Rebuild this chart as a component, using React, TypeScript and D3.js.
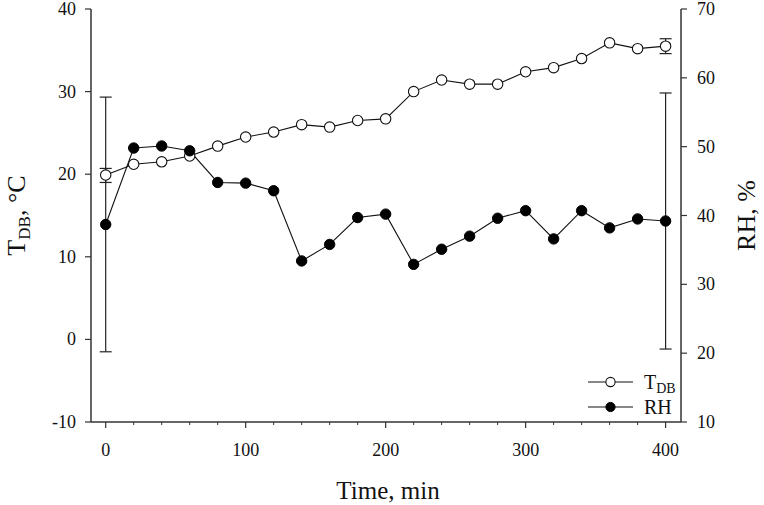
import React from "react";
import * as d3 from "d3";

const times = [0, 20, 40, 60, 80, 100, 120, 140, 160, 180, 200, 220, 240, 260, 280, 300, 320, 340, 360, 380, 400];
const tdb = [19.9, 21.2, 21.5, 22.2, 23.4, 24.5, 25.1, 26.0, 25.7, 26.5, 26.7, 30.0, 31.4, 30.9, 30.9, 32.4, 32.9, 34.0, 35.9, 35.2, 35.5];
const rh = [38.7, 49.8, 50.1, 49.4, 44.8, 44.7, 43.6, 33.4, 35.8, 39.7, 40.2, 32.9, 35.1, 37.0, 39.6, 40.7, 36.6, 40.7, 38.2, 39.5, 39.2];
// error bars: [time, low, high]
const tdbErr = [
  [0, 19.0, 20.7],
  [400, 34.6, 36.4],
];
const rhErr = [
  [0, 20.2, 57.2],
  [400, 20.6, 57.8],
];
const xTicks = [0, 100, 200, 300, 400];
const xMinor = [20, 40, 60, 80, 120, 140, 160, 180, 220, 240, 260, 280, 320, 340, 360, 380];
const leftTicks = [-10, 0, 10, 20, 30, 40];
const rightTicks = [10, 20, 30, 40, 50, 60, 70];

const W = 764;
const H = 505;
const X0 = 91, X1 = 681, Y0 = 422, Y1 = 9;

export default function App() {
  const x = d3.scaleLinear().domain([-10.5, 411]).range([X0, X1]);
  const yL = d3.scaleLinear().domain([-10, 40]).range([Y0, Y1]);
  const yR = d3.scaleLinear().domain([10, 70]).range([Y0, Y1]);
  const lineT = d3.line<number>().x((_, i) => x(times[i])).y((d) => yL(d));
  const lineR = d3.line<number>().x((_, i) => x(times[i])).y((d) => yR(d));
  const font = "'Liberation Serif', 'Times New Roman', serif";
  const axisCol = "#333";
  const cap = 6;
  return (
    <svg width={W} height={H} style={{ position: "absolute", left: 0, top: 0, background: "#fff" }} fontFamily={font}>
      {/* axes */}
      <line x1={X0} x2={X1} y1={Y0} y2={Y0} stroke={axisCol} strokeWidth={1.5} />
      <line x1={X0} x2={X0} y1={Y0} y2={Y1} stroke={axisCol} strokeWidth={1.5} />
      <line x1={X1} x2={X1} y1={Y0} y2={Y1} stroke={axisCol} strokeWidth={1.5} />
      {xTicks.map((t) => (
        <g key={"xt" + t}>
          <line x1={x(t)} x2={x(t)} y1={Y0} y2={Y0 + 6} stroke={axisCol} strokeWidth={1.2} />
          <text x={x(t)} y={456} fontSize={18} textAnchor="middle" fill="#111">{t}</text>
        </g>
      ))}
      {xMinor.map((t) => (
        <line key={"xm" + t} x1={x(t)} x2={x(t)} y1={Y0} y2={Y0 + 3} stroke={axisCol} strokeWidth={1} />
      ))}
      {leftTicks.map((t) => (
        <g key={"lt" + t}>
          <line x1={X0 - 6} x2={X0} y1={yL(t)} y2={yL(t)} stroke={axisCol} strokeWidth={1.2} />
          <text x={X0 - 15} y={yL(t) + 6} fontSize={18} textAnchor="end" fill="#111">{t}</text>
        </g>
      ))}
      {rightTicks.map((t) => (
        <g key={"rt" + t}>
          <line x1={X1} x2={X1 + 6} y1={yR(t)} y2={yR(t)} stroke={axisCol} strokeWidth={1.2} />
          <text x={X1 + 16} y={yR(t) + 6} fontSize={18} textAnchor="start" fill="#111">{t}</text>
        </g>
      ))}
      {/* titles */}
      <text x={388} y={499} fontSize={25} textAnchor="middle" fill="#111">Time, min</text>
      <text transform={`translate(25,${(Y0 + Y1) / 2}) rotate(-90)`} fontSize={26} textAnchor="middle" fill="#111">
        T<tspan fontSize={17} dy={5}>DB</tspan><tspan dy={-5}>, °C</tspan>
      </text>
      <text transform={`translate(755,${(Y0 + Y1) / 2}) rotate(-90)`} fontSize={26} textAnchor="middle" fill="#111">
        RH, %
      </text>
      {/* error bars */}
      {rhErr.map(([t, lo, hi]) => (
        <g key={"re" + t} stroke="#222" strokeWidth={1.2}>
          <line x1={x(t)} x2={x(t)} y1={yR(lo)} y2={yR(hi)} />
          <line x1={x(t) - cap} x2={x(t) + cap} y1={yR(lo)} y2={yR(lo)} />
          <line x1={x(t) - cap} x2={x(t) + cap} y1={yR(hi)} y2={yR(hi)} />
        </g>
      ))}
      {tdbErr.map(([t, lo, hi]) => (
        <g key={"te" + t} stroke="#222" strokeWidth={1.2}>
          <line x1={x(t)} x2={x(t)} y1={yL(lo)} y2={yL(hi)} />
          <line x1={x(t) - cap} x2={x(t) + cap} y1={yL(lo)} y2={yL(lo)} />
          <line x1={x(t) - cap} x2={x(t) + cap} y1={yL(hi)} y2={yL(hi)} />
        </g>
      ))}
      {/* series */}
      <path d={lineT(tdb) || ""} fill="none" stroke="#111" strokeWidth={1.1} />
      <path d={lineR(rh) || ""} fill="none" stroke="#111" strokeWidth={1.1} />
      {tdb.map((v, i) => (
        <circle key={"tc" + i} cx={x(times[i])} cy={yL(v)} r={5.2} fill="#fff" stroke="#111" strokeWidth={1.1} />
      ))}
      {rh.map((v, i) => (
        <circle key={"rc" + i} cx={x(times[i])} cy={yR(v)} r={5.2} fill="#000" stroke="#000" strokeWidth={1} />
      ))}
      {/* legend */}
      <g>
        <line x1={588} x2={633} y1={382} y2={382} stroke="#111" strokeWidth={1.1} />
        <circle cx={610.5} cy={382} r={4.6} fill="#fff" stroke="#111" strokeWidth={1.1} />
        <text x={644} y={389} fontSize={20} fill="#111">
          T<tspan fontSize={14} dy={4}>DB</tspan>
        </text>
        <line x1={588} x2={633} y1={407} y2={407} stroke="#111" strokeWidth={1.1} />
        <circle cx={610.5} cy={407} r={4.6} fill="#000" stroke="#000" strokeWidth={1} />
        <text x={644} y={414} fontSize={20} fill="#111">RH</text>
      </g>
    </svg>
  );
}
